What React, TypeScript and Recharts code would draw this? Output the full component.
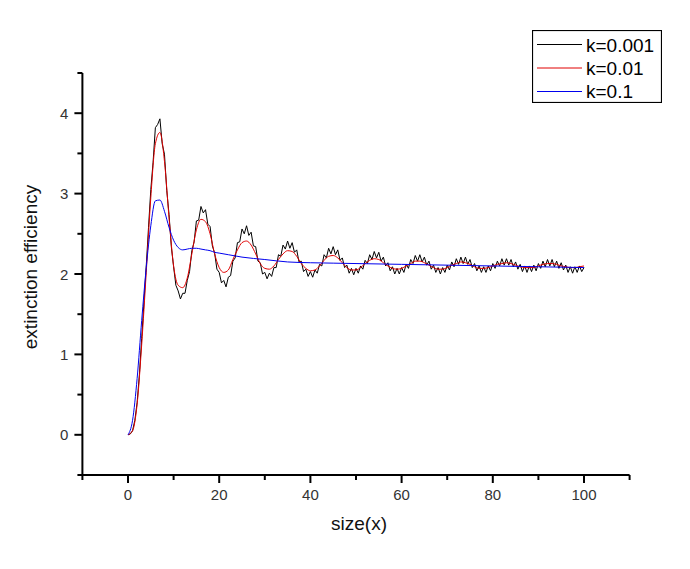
import React from "react";
import { LineChart, Line, XAxis, YAxis, Legend, Label } from "recharts";

// k = 0.001, sampled every 0.5 in x (0 .. 100)
const blackStep = 0.5;
const blackY = [
  0, 0.01, 0.05, 0.18, 0.4, 0.75, 1.2, 1.65, 2.1, 2.58,
  3.05, 3.39, 3.82, 3.86, 3.93, 3.62, 3.49, 3.04, 2.74, 2.34,
  2.09, 1.86, 1.79, 1.69, 1.76, 1.76, 1.92, 2.03, 2.29, 2.4,
  2.66, 2.67, 2.84, 2.76, 2.8, 2.62, 2.59, 2.35, 2.26, 2.06,
  2.02, 1.89, 1.92, 1.84, 1.96, 1.98, 2.16, 2.2, 2.39, 2.4,
  2.56, 2.5, 2.6, 2.48, 2.52, 2.35, 2.34, 2.16, 2.14, 2.0,
  2.02, 1.94, 2.01, 1.97, 2.08, 2.08, 2.24, 2.22, 2.36, 2.31,
  2.41, 2.32, 2.39, 2.27, 2.3, 2.15, 2.16, 2.03, 2.06, 1.97,
  2.03, 1.96, 2.05, 2.01, 2.12, 2.1, 2.24, 2.2, 2.32, 2.25,
  2.34, 2.24, 2.3, 2.17, 2.2, 2.08, 2.11, 2.01, 2.07, 1.99,
  2.07, 2.01, 2.1, 2.06, 2.17, 2.13, 2.24, 2.18, 2.28, 2.2,
  2.27, 2.16, 2.21, 2.1, 2.14, 2.04, 2.09, 2.0, 2.07, 2.0,
  2.08, 2.02, 2.12, 2.07, 2.18, 2.13, 2.23, 2.16, 2.24, 2.15,
  2.21, 2.11, 2.16, 2.06, 2.11, 2.02, 2.08, 2.0, 2.08, 2.02,
  2.11, 2.05, 2.15, 2.09, 2.19, 2.12, 2.21, 2.13, 2.21, 2.12,
  2.18, 2.08, 2.13, 2.04, 2.1, 2.02, 2.09, 2.02, 2.1, 2.04,
  2.13, 2.07, 2.16, 2.1, 2.19, 2.11, 2.19, 2.11, 2.18, 2.09,
  2.15, 2.06, 2.12, 2.03, 2.1, 2.02, 2.1, 2.03, 2.11, 2.04,
  2.13, 2.07, 2.16, 2.09, 2.18, 2.1, 2.18, 2.09, 2.16, 2.07,
  2.14, 2.05, 2.11, 2.02, 2.09, 2.01, 2.09, 2.02, 2.1, 2.03,
  2.08,
];

// k = 0.01
const redX = [
  0, 1, 2, 3, 4, 5, 6, 7, 8, 9, 10, 11, 12, 13, 14, 15, 16, 17, 18, 19, 20,
  21, 22, 23, 24, 25, 26, 27, 28, 29, 30, 31, 32, 33, 34, 35, 36, 37, 38, 39, 40,
  41, 42, 43, 44, 45, 46, 47, 48, 49, 50, 51, 52, 53, 54, 55, 56, 57, 58, 59, 60,
  61, 62, 63, 64, 65, 66, 67, 68, 69, 70, 71, 72, 73, 74, 75, 76, 77, 78, 79, 80,
  81, 82, 83, 84, 85, 86, 87, 88, 89, 90, 91, 92, 93, 94, 95, 96, 97, 98, 99, 100,
];
const redY = [
  0, 0.05, 0.38, 1.12, 2.02, 2.95, 3.62, 3.76, 3.4, 2.7, 2.1,
  1.86, 1.83, 1.95, 2.25, 2.55, 2.68, 2.65, 2.5, 2.25, 2.08,
  2.02, 2.05, 2.18, 2.3, 2.39, 2.41, 2.36, 2.25, 2.13, 2.07,
  2.06, 2.1, 2.18, 2.25, 2.29, 2.28, 2.22, 2.13, 2.07, 2.04,
  2.05, 2.1, 2.17, 2.22, 2.23, 2.2, 2.14, 2.08, 2.05, 2.05,
  2.08, 2.13, 2.17, 2.19, 2.18, 2.14, 2.1, 2.07, 2.06, 2.07,
  2.1, 2.13, 2.16, 2.16, 2.14, 2.11, 2.08, 2.06, 2.06, 2.08,
  2.11, 2.13, 2.15, 2.14, 2.12, 2.09, 2.07, 2.07, 2.08, 2.1,
  2.12, 2.13, 2.14, 2.13, 2.11, 2.09, 2.08, 2.08, 2.08, 2.1,
  2.12, 2.13, 2.13, 2.12, 2.1, 2.09, 2.08, 2.08, 2.09, 2.1,
];

// k = 0.1
const blueX = [
  0, 1, 2, 3, 4, 5, 6, 7, 8, 9, 10, 11, 12, 13, 14, 15, 16, 17, 18, 19, 20,
  22, 25, 30, 35, 40, 45, 50, 60, 70, 80, 90, 100,
];
const blueY = [
  0, 0.18, 0.7, 1.42, 2.08, 2.6, 2.91, 2.92, 2.78, 2.58, 2.42,
  2.33, 2.3, 2.31, 2.32, 2.32, 2.31, 2.3, 2.29, 2.27, 2.26,
  2.24, 2.21, 2.18, 2.15, 2.14, 2.135, 2.13, 2.12, 2.11, 2.1, 2.09, 2.08,
];

const seriesNames = ["k=0.001", "k=0.01", "k=0.1"];
const seriesColors = ["#000000", "#e00000", "#0000ee"];

const xTicks = [-10, 0, 10, 20, 30, 40, 50, 60, 70, 80, 90, 100, 110];
const yTicks = [-0.5, 0, 0.5, 1, 1.5, 2, 2.5, 3, 3.5, 4, 4.5];

const blackData = blackY.map((y, i) => ({ x: i * blackStep, y }));
const redData = redX.map((x, i) => ({ x, y: redY[i] }));
const blueData = blueX.map((x, i) => ({ x, y: blueY[i] }));

const font = "'Liberation Sans', Arial, sans-serif";

const XTick = (props: any) => {
  const { x, y, payload } = props;
  const major = payload.value % 20 === 0;
  return (
    <g>
      <line x1={x} x2={x} y1={y} y2={y + (major ? 8 : 5)} stroke="#000" strokeWidth={2} />
      {major && (
        <text x={x} y={y + 25} textAnchor="middle" fontSize={15} fontFamily={font} fill="#333">
          {payload.value}
        </text>
      )}
    </g>
  );
};

const YTick = (props: any) => {
  const { x, y, payload } = props;
  const major = Number.isInteger(payload.value);
  return (
    <g>
      <line x1={x - (major ? 8 : 5)} x2={x} y1={y} y2={y} stroke="#000" strokeWidth={2} />
      {major && (
        <text x={x - 14} y={y + 5.5} textAnchor="end" fontSize={15} fontFamily={font} fill="#333">
          {payload.value}
        </text>
      )}
    </g>
  );
};

const LegendBox = () => (
  <svg width={130} height={73} style={{ display: "block" }}>
    <rect x={0.5} y={0.5} width={129} height={72} fill="#fff" stroke="#000" strokeWidth={1.2} />
    {seriesNames.map((name, i) => (
      <g key={name}>
        <line x1={5} x2={50} y1={14.5 + i * 23.5} y2={14.5 + i * 23.5} stroke={seriesColors[i]} strokeWidth={1} />
        <text x={54} y={21.5 + i * 23} fontSize={19} fontFamily={font} fill="#000">
          {name}
        </text>
      </g>
    ))}
  </svg>
);

export default function App() {
  return (
    <LineChart
      width={680}
      height={553}
      margin={{ top: 65, right: 58.4, left: 14.4, bottom: 46 }}
    >
      <XAxis
        type="number"
        dataKey="x"
        domain={[-10, 110]}
        ticks={xTicks}
        allowDataOverflow
        height={40}
        tickSize={0}
        tickMargin={0}
        tickLine={false}
        axisLine={{ stroke: "#000", strokeWidth: 2 }}
        tick={<XTick />}
        interval={0}
      >
        <Label
          content={() => (
            <text x={351} y={522} textAnchor="middle" fontSize={19} fontFamily={font} fill="#111">
              size(x)
            </text>
          )}
        />
      </XAxis>
      <YAxis
        type="number"
        dataKey="y"
        domain={[-0.5, 4.5]}
        ticks={yTicks}
        allowDataOverflow
        width={60}
        tickSize={0}
        tickMargin={0}
        tickLine={false}
        axisLine={{ stroke: "#000", strokeWidth: 2 }}
        tick={<YTick />}
        interval={0}
      >
        <Label
          content={() => (
            <text
              x={29}
              y={259}
              transform="rotate(-90, 29, 259)"
              textAnchor="middle"
              fontSize={19}
              fontFamily={font}
              fill="#111"
            >
              extinction efficiency
            </text>
          )}
        />
      </YAxis>
      <Legend
        layout="vertical"
        align="center"
        verticalAlign="middle"
        wrapperStyle={{ left: 524, top: 22, width: 130, height: 73 }}
        content={<LegendBox />}
      />
      <Line data={blackData} dataKey="y" name={seriesNames[0]} type="linear" stroke={seriesColors[0]} strokeWidth={1} dot={false} isAnimationActive={false} />
      <Line data={redData} dataKey="y" name={seriesNames[1]} type="monotone" stroke={seriesColors[1]} strokeWidth={1} dot={false} isAnimationActive={false} />
      <Line data={blueData} dataKey="y" name={seriesNames[2]} type="monotone" stroke={seriesColors[2]} strokeWidth={1} dot={false} isAnimationActive={false} />
    </LineChart>
  );
}
